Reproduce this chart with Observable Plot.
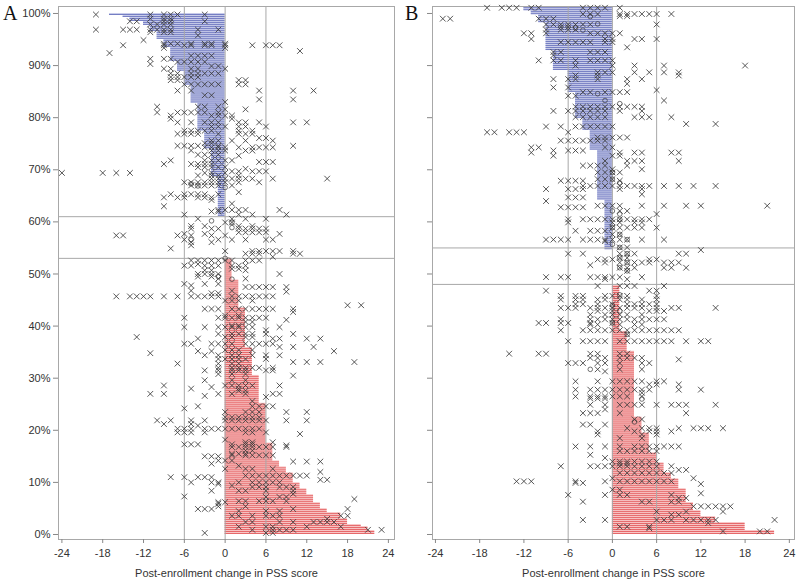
<!DOCTYPE html>
<html><head><meta charset="utf-8">
<script src="https://cdn.jsdelivr.net/npm/d3@7"></script>
<script src="https://cdn.jsdelivr.net/npm/@observablehq/plot@0.6"></script>
<style>
body{margin:0;background:#fff;}
#wrap{position:relative;width:798px;height:581px;overflow:hidden;}
.panel{position:absolute;top:0;}
.letter{position:absolute;font-family:"Liberation Serif","DejaVu Serif",serif;font-size:20px;line-height:22px;color:#111;}
</style></head><body>
<div id="wrap">
  <div id="pa" class="panel" style="left:0"></div>
  <div id="pb" class="panel" style="left:400px"></div>
  <div class="letter" style="left:3px;top:2px">A</div>
  <div class="letter" style="left:405px;top:2px">B</div>
</div>
<script>
// ---------- Panel A: sorted post-enrollment changes (value, number of participants) ----------
const aRunValues = [22,21,20,18,17,15,14,13,12,11,10,9,8,7,6,5,4,3,2,1,0,-1,-2,-3,-4,-5,-6,-7,-8,-9,-10,-11,-12,-14,-15,-17];
const aRunCounts = [2,2,1,3,3,2,3,4,3,3,5,3,3,9,20,14,14,20,14,11,21,20,14,9,14,9,7,5,7,4,4,3,2,2,1,1];
const aTopPct = 100;
const aRefLines = [53, 61];

// ---------- Panel B ----------
const bRunValues = [22,18,14,12,11,10,9,8,7,6,5,4,3,2,1,0,-1,-2,-3,-4,-5,-6,-8,-9,-10,-11,-12];
const bRunCounts = [2,4,3,3,4,7,5,3,5,5,10,8,33,10,23,18,25,25,10,6,13,11,10,14,4,2,2];
const bTopPct = 101.3;
const bRefLines = [48, 55];

const xTicks = [-24,-18,-12,-6,0,6,12,18,24];
const yTicks = [0,10,20,30,40,50,60,70,80,90,100];
const refX = [-6, 0, 6];

// ---------- individual "x" markers: [percentile, [changes]] ----------
const marksA = [
[99.8,[-19,-11,-9,-8,-7,-3]],[99.0,[-11,-9,-8]],[98.5,[-14,-13,-9,-8,-3]],[97.9,[-11,-10,-9,-8]],
[96.9,[-19,-15,-14,-13,-11,-10,-9,-8,-4,-1]],[96.4,[-11,-9,-8]],[95.8,[-4]],[94.9,[-12]],
[94.2,[-9,-8,-7,-5,-3,-2,0]],[93.9,[-15,-9,-6,-5,-3,-2,0,4,6,7,8]],[93.4,[-9,0]],[92.8,[11]],[92.4,[-17]],
[91.9,[-5,-4,-3,-2]],[91.3,[-11,-9,-8]],[90.7,[-7,-6,-5,-4,-3]],[90.3,[-11]],[89.9,[-2,-1]],
[89.4,[-9,-8,-5,-4,0]],[88.5,[-8,-7,-5,-4,-3,-2,-1]],[87.8,[-8,-7,-6,-5,-4]],[87.2,[-8,-7,2,3]],
[86.4,[-6,-5,-4,-3,-2,-1,2,3]],[85.2,[-7,-5,5,10,13]],[84.3,[-3,-2]],[83.5,[5,10]],[83.0,[0]],
[82.1,[-10,-4,-3,-1]],[81.6,[0,3]],[81.0,[-10,-7,-6,-5,-4,-3,-1]],[80.4,[-8,-2,-1,0,1]],[79.8,[-8,1]],
[79.1,[-7,-5,-3,-2,-1,2,3,5,10,12]],[78.3,[-2,-1,0,2,3,6]],[77.5,[-6,-5,-4,-3,-2,2,4]],
[76.9,[-7,-6,-5,-4,-1,2,3,4]],[76.1,[5,6]],[75.6,[-2,-1,1,3,7]],[75.1,[-3,-2]],[74.6,[-7,-6,-5,-4,-1,10]],
[74.3,[-3,-2,-1,0,2,4,5,6,7]],[73.7,[-5,-2,-1,0,3,4]],[72.9,[-4,-3,-2,-1]],[72.7,[2]],
[71.8,[-8,-3,-2,-1,0,1]],[71.5,[5,6,7]],[71.1,[-9,-5,-4,-3,-2]],[70.5,[-4,-3,-2,-1,0]],[70.2,[3]],
[69.7,[1,2,4,5,6]],[69.4,[-24,-18,-16,-14,-3,-2,0]],[68.9,[-4,-2,-1,2]],[68.3,[-2,-1,0,1,2,3,4,7,15]],
[67.6,[-6,-5,-4,-3,-2,-1,0,2,5]],[67.0,[-5,-4,-3,-2,-1,1]],[65.7,[2]],[65.3,[-8,-6,-5,-4,-3,-1]],
[64.7,[-9,-7,-6,-4,-3,-2]],[64.2,[-2]],[63.5,[1]],[63.0,[-9]],[62.3,[-1,0,1,2,3,8]],[62.0,[-2,-1]],
[61.4,[-6,2,4,9]],[60.6,[-4,1,3,6]],[59.9,[0,1]],[59.2,[-5,-3,2,4]],[58.7,[-5,-2,-1,2,3,4,5,6]],
[58.0,[2,3,4,5,6]],[57.7,[-6,-3,8]],[57.4,[-16,-15,-7,-5,-2,0]],[56.6,[-6,-1,1,3,6,7]],[56.1,[-5,-2]],
[55.5,[-5]],[54.9,[-8]],[54.4,[0,4,5,6,7,8,10]],[53.9,[3,4,5,10,11]],[53.3,[7]],
[52.6,[-5,-4,-3,-2,-1,0,1,3,4,5]],[51.9,[-4]],[51.6,[-6,-5,-3,-2,-1,1,2,3]],[51.0,[1,2]],[50.7,[-3,-2,3]],
[50.0,[-4,-3,-2,-1,8]],[49.5,[-4,-2]],[49.1,[-1,3]],[48.1,[-6,-3,-1]],[47.8,[-5]],[47.5,[3,4,5,6,7,9]],
[46.8,[-5,1]],[46.6,[9]],[46.3,[-2,-1]],
[45.7,[-16,-14,-13,-12,-11,-9,-7,-5,-4,-3,-2,-1,1,2,3,4,5,6,7]],[44.9,[0,1,2,4]],[44.0,[18,20]],
[43.3,[-3,-2,-1,1,2,3,4,5,6,7,10]],[42.7,[10]],[42.0,[0,2]],[41.6,[-6,-1,0,1,2,3,4,5,6]],[41.2,[9]],
[40.8,[3,4]],[40.1,[1,2]],[39.8,[-6,-3,-1,0,1,2,3,4,8]],[39.2,[6]],[38.5,[-1,1,2,3,4,6,10]],
[37.9,[-13,0,1,3,4]],[37.6,[-4,7,8,12,14]],[36.6,[-6,-5,-2,-1,0,1,3,4,5,6,7]],[36.0,[8,10,13]],
[35.4,[0,1,2,4]],[35.2,[-4,-2,16]],[34.8,[-11]],[34.4,[-3,-1,1,2,4,6,8]],[33.7,[-1,0,1,2,3,6]],
[33.1,[10,12,14,19]],[32.8,[-7,-1,1,2]],[32.0,[-1,1,2,3,4,5,7]],[31.5,[-3,-1,1,2,3,6,7]],[30.8,[-1,1,3]],
[30.5,[10]],[29.6,[-3,1,3]],[28.6,[-9,0,1,2,3,4,8]],[28.3,[-2]],[28.0,[-5,2]],[27.6,[2,3]],
[27.0,[-11,-9,-1,1,3,7,8]],[26.6,[-3]],[26.4,[6]],[25.6,[4]],[24.6,[-4,4,5,6,7]],[24.2,[-6]],
[23.5,[0,3,4,5,9,12]],[22.5,[0,1,2,3,4,5]],[21.9,[-10,-8,-5,-3,0,1,2,3,4,5,6,9,12]],[21.2,[-9,-5]],
[20.9,[-4]],[20.3,[-7,-6,-5,-3,-2,-1,0,1,2,3,4,5]],[19.6,[-7,-6,-5,-3,3,4,6]],[19.3,[11]],[18.2,[0]],
[17.7,[3,4,7]],[17.3,[-6,-5,-4,1,3,4]],[17.1,[9]],[16.8,[1,2,3,4,5,6,7,9]],[16.1,[3,4]],[15.5,[1,2,3]],
[15.2,[1,3,4,5,6,7]],[15.0,[-3,-2,-1]],[14.2,[-1,0,1]],[14.0,[10,12,14]],[13.6,[-2]],[13.2,[2]],
[12.6,[0,3,4,7]],[12.0,[14]],[11.3,[3,4,5,6,7,8,9,10,11,12]],[11.0,[-8,-6,-4,-3,-2]],[10.5,[14,15]],
[10.0,[-5,-2,-1,2,4,5,6,7,8]],[9.7,[-1]],[9.4,[1]],[9.1,[4,5,6,8,9,10]],[8.4,[-2,2,3,6,10]],[7.8,[10]],
[7.3,[-6]],[7.2,[6,8,9]],[6.8,[19]],[6.4,[2,3,5,6,7,9]],[6.2,[-1,0]],[5.9,[-1]],[5.4,[-1,3]],
[4.9,[-4,-3,-2,10,18]],[4.5,[2,6,8]],[3.6,[1,2,4,6,7,8,17,18]],[3.0,[15]],[2.4,[3,4,8,10,13,14,15,16]],
[1.5,[2,6,7,12,17]],[0.9,[4,7,8,9,10,21,23]],[0.3,[-3,6,7]]
];
const circlesA = [[67.3,-5],[66.9,-4],[60.2,-2],[59.9,1],[56.6,-5],[53.0,0],[49.5,-1],[49.0,1],[66.6,0],[58.9,1]];

const marksB = [
[101.1,[-17,-15,-14,-13,-11,-10,-4,-3,-2,-1,1]],[99.9,[-4,-3,-2,1,2,3,4,5,6,8]],[99.5,[1,2]],
[99.0,[-23,-22,-10,-9,-8]],[97.9,[-9,-8,-7,-6,-5,-4,-3,6]],[97.4,[-7,-6]],[96.9,[-9,-7,-6,-5]],
[96.2,[-12,-11,-9,-3,-2,-1,0,1]],[95.1,[-11,-1,0,3,4,6]],[94.5,[-7,-6,-5,-4,-3,-1,0]],[93.5,[2]],
[92.6,[-8,-7,-3,-2,-1]],[92.0,[-8]],[91.0,[-10,-8,-7,-5,-3,-2,-1,0]],[90.0,[-5,0,3,7,18]],
[88.7,[-2,-1,0,3,5,7,9]],[88.1,[-5,-2,9]],[87.4,[-8,-6,-5,-2,2,4]],[86.5,[2]],[85.8,[-8,-6]],[85.3,[6]],
[84.9,[-4,-3,-1,0,1,2]],[84.2,[-6,-5]],[83.3,[7]],[82.1,[-5,-4,-3,-2,-1,0,1,2,3,4]],
[81.3,[-8,-6,-5,-4,-3,-2,-1,1,4]],[80.1,[-5,-4,-3,-2,-1,3,4,5,8]],[78.8,[10,14]],
[78.3,[-9,-7,-5,-4,-3,-2,-1,0]],[77.2,[-17,-16,-14,-13,-12,-6]],[76.2,[-2,-1,0,1,2]],
[75.6,[-7,-6,-5,-4,-3,-2,-1]],[74.3,[-11,-10,-1,0]],[73.7,[-8,-6,-5,-4]],[73.3,[-11,1,3,4,8,9]],
[72.7,[-8,0,1]],[71.7,[-1,2,3,4,9]],[70.8,[-4,-3,-2,-1,2]],[70.1,[0,4]],[69.5,[-2,-1,0,1]],
[68.2,[-2,-1,0]],[67.9,[-7,-6,-5,-4,1]],[66.9,[-4,-3,-2,-1,0,1,2,3,4,5,7,9,11,14]],
[66.3,[-9,-6,-5,-4,1,4]],[65.3,[4]],[64.7,[-6,-5,-4]],[64.0,[-9]],[63.1,[-2,-1,0,1,4,7,10,12,21]],
[62.8,[-7,-6,-5,-4]],[62.1,[1,2]],[61.5,[6]],[60.5,[-6,-4,-3,-2,-1,0,1,2,3,4,5]],[59.9,[-6,0,1,3,4]],
[58.9,[0,1,2,3,4,6]],[58.3,[-5,-3,-2,-1]],[57.6,[0,1]],[56.6,[-9,-8,-7,-6,-4,-3,-2,-1,0,1,2,4,7]],
[56.3,[-1]],[55.1,[1,2]],[54.6,[12]],[53.9,[-6,-4,1,2,3,9,10]],[53.1,[1,2]],[52.8,[-2,-1,0,5,6]],
[52.2,[-1,1,2,3,4,5,7,8,9]],[51.7,[-3]],[51.2,[1,2,3,7,8,10]],[50.6,[2]],[49.4,[-9,-7,-6,-3,-2,-1,0,1,4]],
[49.0,[-1,2]],[47.7,[-2,1,2,3,7]],[46.8,[-9,5,6]],[45.8,[-7,-5,-4,-1,0,1,2,6]],
[45.1,[-7,-5,-4,-2,-1,1,2,4,6]],[44.2,[-5,-4,-2,0,2,3,4,5,6]],
[43.5,[-7,-6,-5,-3,-2,-1,0,1,2,3,4,6,8,9,14]],[42.9,[-2,0,5,6,7]],[42.2,[-3,-1,0,1,2,4]],
[41.3,[-7,-3,-2,-1,0,1,2,3,4,5,6,7]],[40.6,[-10,-9,-7,-6,-3,0]],[40.3,[-3,-2,1,3,4]],
[39.2,[-7,-4,-3,-2,-1,0,1,2,3,4,5,6,7,8,9]],[38.4,[2]],
[37.1,[-6,-4,-3,-2,-1,1,2,3,4,5,6,7,8,10,12,13]],[34.7,[-14,-10,-9,-3,-2,1,2]],
[33.9,[-3,-2,-1,1,2,3,4]],[33.6,[9]],[32.9,[-6,-5,-4,-2,-1,1,4,5]],[31.7,[-2,1,4]],[31.3,[-1]],
[29.4,[-5,-2,0,1,2,3,4,6,7]],[28.8,[5,6,9]],[27.8,[-5,-3,-2,-1,0,1,2,3,4,5,9,12]],[27.2,[4]],
[26.5,[-5,-3,-2,-1,0,1,2,4]],[26.1,[-3,-2,-1]],[24.9,[-3,-1,1,2,3,4,6,8,9,10,14]],[24.0,[-1]],
[23.3,[-4,-3,-2,1,10]],[22.1,[3,4]],[21.1,[-4,-3,-1]],[20.4,[2,4,5,6,9,11,12,13,15]],
[19.8,[-2,3,5,6,8]],[19.2,[-2,4,6]],[18.5,[1,4]],[16.9,[-5,-3,-1,1,3,4,5,6,7,8,9]],[16.0,[1,2,3,4,5,6]],
[15.3,[-3]],[14.7,[-1]],[14.0,[0,1,2,3,4,5,6]],[13.6,[1,2]],[13.1,[-7,-3,-2,-1,0,1,2,3,4,5,6,8]],
[12.4,[9,10]],[11.8,[1,2,3,4,5,6,7,8]],[10.8,[0,11]],[10.2,[-13,-12,-11,-5,-1,1,2,3,4,5,6,7,8]],
[9.9,[-5,-4]],[9.7,[12]],[8.6,[0,1]],[7.9,[12]],[7.6,[-6,-1,1,2,8]],[7.0,[9,10]],[6.3,[-4,4,5,8,9]],
[5.4,[11,12,13,14,15,16]],[4.4,[6,10,15]],[3.8,[8,9]],[2.8,[-4,-1,6,7,8,10,11,12,13,14,22]],[2.2,[13]],
[1.5,[1,2,5]],[1.2,[5]],[0.6,[15,20,21]]
];
const circlesB = [[99.4,-3],[98.0,-2],[97.2,-5],[96.8,-4],[84.6,-2],[83.3,-1],[82.7,1],[69.5,0],[68.2,0],
[67.5,1],[62.1,0],[61.5,1],[60.5,1],[58.9,0],[57.6,1],[56.6,2],[55.7,0],[55.1,1],[53.9,2],[53.1,1],
[52.2,2],[51.2,1],[50.6,2],[46.0,1],[44.0,0],[42.9,1],[40.6,0],[38.4,2],[31.7,-3],[26.0,4],[21.6,3]];

// ---------- rendering ----------
function expand(values, counts, topPct) {
  const n = d3.sum(counts), rows = [];
  const step = topPct / n;
  let i = 0;
  values.forEach((v, k) => {
    for (let c = 0; c < counts[k]; c++, i++) rows.push({v, pct: (i + 0.5) * step, h: step / 2});
  });
  return rows;
}
const flat = marks => marks.flatMap(([p, vs]) => vs.map(v => ({x: v, y: p})));

const FONT = "'Liberation Sans', Arial, sans-serif";
function panel(el, opt) {
  const rows = expand(opt.values, opt.counts, opt.top);
  const neg = rows.filter(d => d.v < 0), pos = rows.filter(d => d.v > 0);
  const chart = Plot.plot({
    width: opt.width, height: 581,
    marginLeft: opt.ml, marginRight: opt.mr, marginTop: 6, marginBottom: 42,
    style: {fontFamily: FONT, fontSize: "11px", color: "#333", background: "#fff"},
    x: {domain: opt.xdom},
    y: {domain: [-0.96, 101.34]},
    marks: [
      Plot.rect(neg, {x1: 0, x2: "v", y1: d => d.pct - d.h, y2: d => d.pct + d.h, fill: "#cbcfeb"}),
      Plot.rect(pos, {x1: 0, x2: "v", y1: d => d.pct - d.h, y2: d => d.pct + d.h, fill: "#f8c6c6"}),
      Plot.ruleY(neg, {y: "pct", x1: 0, x2: "v", stroke: "#737cc2", strokeWidth: 1}),
      Plot.ruleY(pos, {y: "pct", x1: 0, x2: "v", stroke: "#e6686a", strokeWidth: 1}),
      Plot.ruleX(refX, {stroke: "#a8a8a8", strokeWidth: 1}),
      Plot.ruleY(opt.ref, {stroke: "#a8a8a8", strokeWidth: 1}),
      Plot.frame({stroke: "#a8a8a8"}),
      Plot.dot(flat(opt.marks), {x: "x", y: "y", symbol: "times", r: 2.7, stroke: "#3a3a3a", strokeWidth: 0.85}),
      Plot.dot(opt.circles, {x: d => d[1], y: d => d[0], r: 2.3, stroke: "#3a3a3a", strokeWidth: 0.7, fill: "none"}),
      Plot.axisY({ticks: yTicks, tickSize: 5, tickPadding: 3, tickFormat: opt.ylabels ? (d => d + "%") : (() => ""), label: null, stroke: "#888"}),
      Plot.axisX({ticks: xTicks, tickSize: 4, tickPadding: 6, tickFormat: d => String(d), label: "Post-enrollment change in PSS score", labelAnchor: "center", labelOffset: 37, labelArrow: "none", stroke: "#888"})
    ]
  });
  el.appendChild(chart);
}
panel(document.getElementById("pa"), {values: aRunValues, counts: aRunCounts, top: aTopPct, ref: aRefLines,
  marks: marksA, circles: circlesA, width: 400, ml: 58, mr: 6, xdom: [-24.5, 24.9], ylabels: true});
panel(document.getElementById("pb"), {values: bRunValues, counts: bRunCounts, top: bTopPct, ref: bRefLines,
  marks: marksB, circles: circlesB, width: 398, ml: 32, mr: 4, xdom: [-24.4, 24.7], ylabels: false});
</script>
</body></html>
